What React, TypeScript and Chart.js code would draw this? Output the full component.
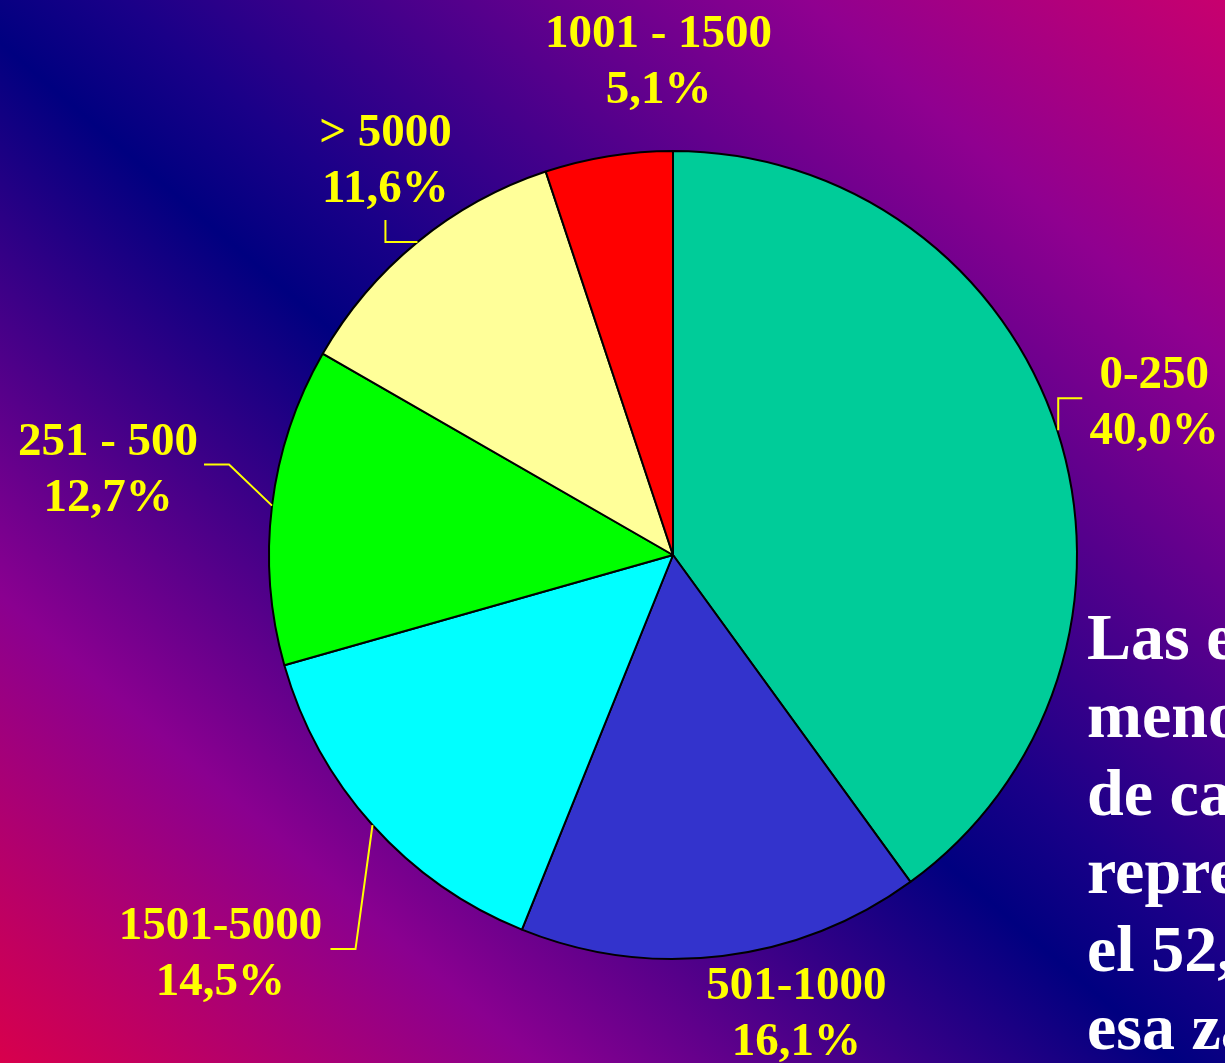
import { useEffect, useRef } from "react";
import { Chart, registerables } from "chart.js";

Chart.register(...registerables);

// ---- data ----
const categories = ["0-250", "501-1000", "1501-5000", "251 - 500", "> 5000", "1001 - 1500"];
const shares = [40.0, 16.1, 14.5, 12.7, 11.6, 5.1];
const sliceColors = ["#00CC99", "#3333CC", "#00FFFF", "#00FF00", "#FFFF99", "#FF0000"];
const noteLines = ["Las empresas", "menores", "de caña", "representan", "el 52,7% de", "esa zafra"];

// ---- label placement (relative to each slice's outer mid-point) ----
const labelPlacement: { dx: number; dy: number; leader: number[][] }[] = [
  { dx: 97, dy: -42, leader: [[1, 0], [1, -32], [25, -32]] },
  { dx: 74, dy: 43, leader: [] },
  { dx: -152, dy: 114, leader: [[0, 0], [-17, 124], [-42, 124]] },
  { dx: -164, dy: -51, leader: [[0, 0], [-43, -41], [-68, -41]] },
  { dx: -32, dy: -96, leader: [[0, 0], [-32, 0], [-32, -22]] },
  { dx: 50, dy: -109, leader: [] },
];

const W = 1225;
const H = 1063;
const LABEL_FONT = 'bold 47px "Liberation Serif", "Times New Roman", serif';
const NOTE_FONT = 'bold 66px "Liberation Serif", "Times New Roman", serif';

const fmt = (v: number) => v.toFixed(1).replace(".", ",") + "%";

const labelsPlugin = {
  id: "sliceLabels",
  afterDraw(chart: any) {
    const ctx = chart.ctx as CanvasRenderingContext2D;
    const meta = chart.getDatasetMeta(0);
    ctx.save();
    meta.data.forEach((arc: any, i: number) => {
      const p = arc.getProps(["x", "y", "startAngle", "endAngle", "outerRadius"], true);
      const mid = (p.startAngle + p.endAngle) / 2;
      const ex = p.x + Math.cos(mid) * p.outerRadius;
      const ey = p.y + Math.sin(mid) * p.outerRadius;
      const pl = labelPlacement[i];
      if (pl.leader.length) {
        ctx.strokeStyle = "#FFFF00";
        ctx.lineWidth = 2;
        ctx.beginPath();
        pl.leader.forEach((pt, k) => {
          if (k === 0) ctx.moveTo(ex + pt[0], ey + pt[1]);
          else ctx.lineTo(ex + pt[0], ey + pt[1]);
        });
        ctx.stroke();
      }
      ctx.fillStyle = "#FFFF00";
      ctx.font = LABEL_FONT;
      ctx.textAlign = "center";
      ctx.textBaseline = "alphabetic";
      ctx.fillText(categories[i], ex + pl.dx, ey + pl.dy);
      ctx.fillText(fmt(shares[i]), ex + pl.dx, ey + pl.dy + 56);
    });
    // side note text
    ctx.fillStyle = "#FFFFFF";
    ctx.font = NOTE_FONT;
    ctx.textAlign = "left";
    noteLines.forEach((t, k) => {
      ctx.fillText(t, 1087, 659 + k * 78);
    });
    ctx.restore();
  },
};

export default function App() {
  const ref = useRef<HTMLCanvasElement | null>(null);
  useEffect(() => {
    if (!ref.current) return;
    const chart = new Chart(ref.current, {
      type: "pie",
      data: {
        labels: categories,
        datasets: [
          {
            data: shares,
            backgroundColor: sliceColors,
            borderColor: "#000000",
            borderWidth: 2,
          },
        ],
      },
      options: {
        animation: false,
        responsive: false,
        events: [],
        rotation: 0,
        layout: { padding: { left: 268, right: 147, top: 150, bottom: 103 } },
        plugins: {
          legend: { display: false },
          tooltip: { enabled: false },
          title: { display: false },
        },
      },
      plugins: [labelsPlugin],
    });
    return () => chart.destroy();
  }, []);

  return (
    <div
      style={{
        position: "absolute",
        left: 0,
        top: 0,
        width: W,
        height: H,
        overflow: "hidden",
        background:
          "linear-gradient(to top right, #D8004C 0%, #8A0090 22%, #000080 48%, #1A0088 55%, #900090 83%, #C8006E 100%)",
      }}
    >
      <canvas ref={ref} width={W} height={H} style={{ display: "block", width: W, height: H }} />
    </div>
  );
}
